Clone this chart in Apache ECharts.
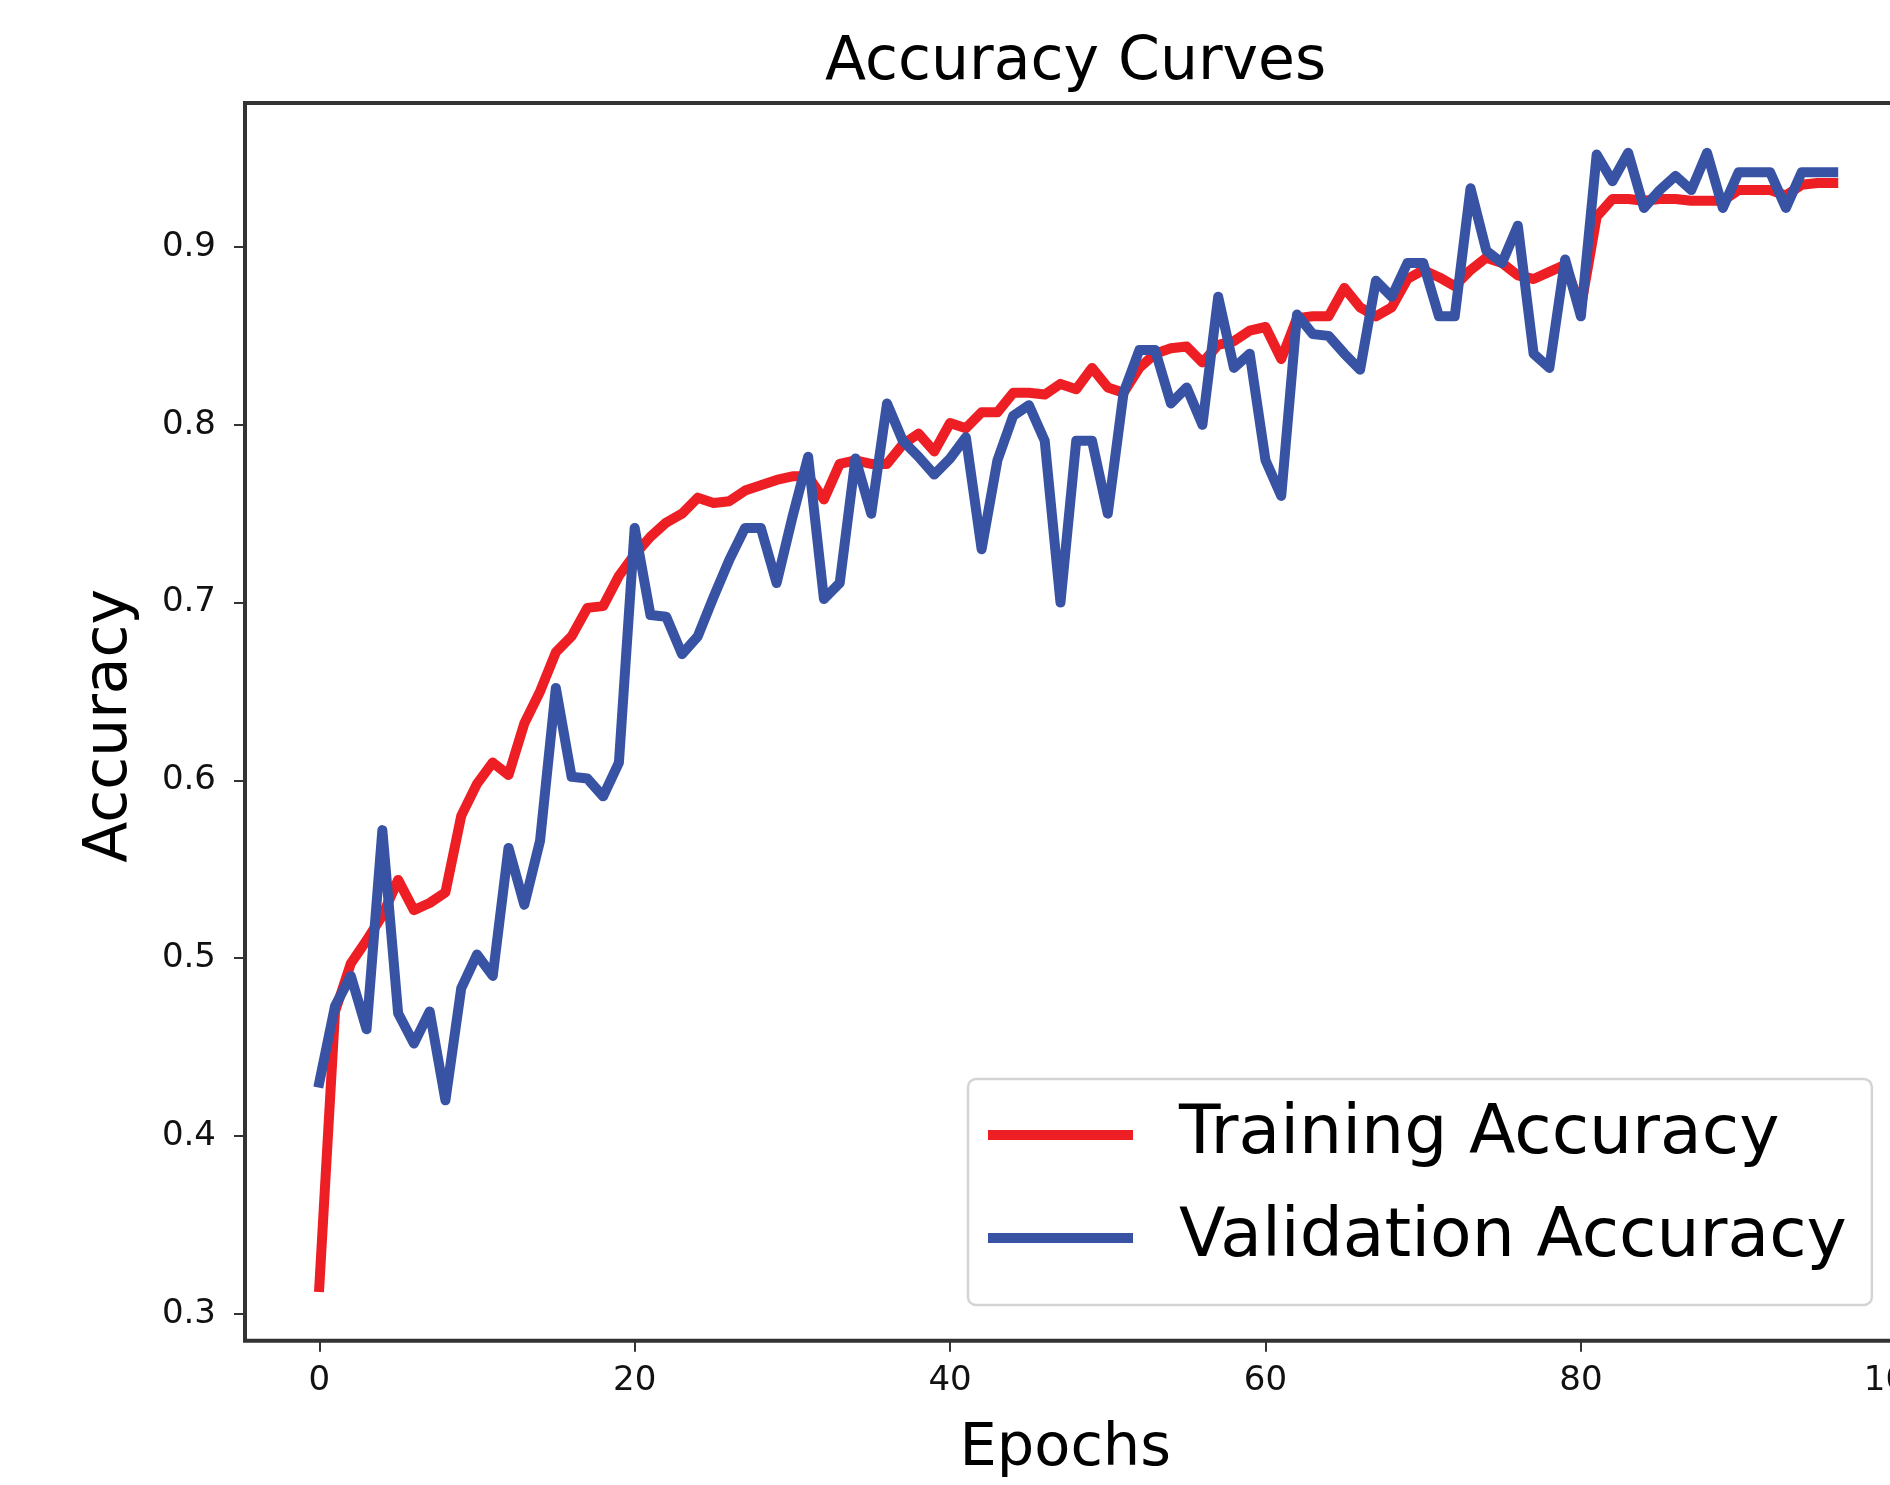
<!DOCTYPE html>
<html>
<head>
<meta charset="utf-8">
<script src="https://cdn.jsdelivr.net/npm/echarts@6/dist/echarts.min.js"></script>
<style>
html,body{margin:0;padding:0;background:#fff;}
#chart{width:1890px;height:1485px;}
</style>
</head>
<body>
<div id="chart"></div>
<script>
const seriesNames = ['Training Accuracy', 'Validation Accuracy'];
const xTicks = [0, 20, 40, 60, 80, 100];
const yTicks = [0.3, 0.4, 0.5, 0.6, 0.7, 0.8, 0.9];

const trainAcc = [
  0.315, 0.470, 0.497, 0.510, 0.524, 0.544, 0.527, 0.531, 0.537, 0.580,
  0.598, 0.610, 0.603, 0.632, 0.650, 0.672, 0.681, 0.697, 0.698, 0.715,
  0.727, 0.737, 0.745, 0.750, 0.759, 0.756, 0.757, 0.763, 0.766, 0.769,
  0.771, 0.771, 0.758, 0.778, 0.780, 0.778, 0.778, 0.789, 0.795, 0.785,
  0.801, 0.798, 0.807, 0.807, 0.818, 0.818, 0.817, 0.823, 0.820, 0.832,
  0.821, 0.818, 0.832, 0.840, 0.843, 0.844, 0.835, 0.845, 0.847, 0.853,
  0.855, 0.837, 0.860, 0.861, 0.861, 0.877, 0.866, 0.861, 0.866, 0.882,
  0.887, 0.883, 0.878, 0.887, 0.894, 0.891, 0.884, 0.882, 0.886, 0.890,
  0.866, 0.917, 0.927, 0.927, 0.926, 0.927, 0.927, 0.926, 0.926, 0.926,
  0.932, 0.932, 0.932, 0.929, 0.935, 0.936, 0.936
];

const valAcc = [
  0.430, 0.473, 0.490, 0.460, 0.572, 0.469, 0.452, 0.470, 0.420, 0.483,
  0.502, 0.490, 0.562, 0.530, 0.566, 0.652, 0.602, 0.601, 0.591, 0.610,
  0.742, 0.693, 0.692, 0.671, 0.681, 0.703, 0.724, 0.742, 0.742, 0.711,
  0.748, 0.782, 0.702, 0.711, 0.781, 0.750, 0.812, 0.791, 0.782, 0.772,
  0.781, 0.793, 0.730, 0.780, 0.805, 0.811, 0.791, 0.700, 0.791, 0.791,
  0.750, 0.818, 0.842, 0.842, 0.812, 0.821, 0.800, 0.872, 0.832, 0.840,
  0.780, 0.760, 0.862, 0.851, 0.850, 0.840, 0.831, 0.881, 0.872, 0.891,
  0.891, 0.861, 0.861, 0.933, 0.898, 0.891, 0.912, 0.840, 0.832, 0.893,
  0.861, 0.952, 0.937, 0.953, 0.922, 0.932, 0.940, 0.932, 0.953, 0.922,
  0.942, 0.942, 0.942, 0.922, 0.942, 0.942, 0.942
];

const FONT = 'DejaVu Sans';
const toPairs = arr => arr.map((v, i) => [i, v]);

const chart = echarts.init(document.getElementById('chart'), null, {renderer: 'canvas'});
chart.setOption({
  animation: false,
  backgroundColor: '#ffffff',
  title: {
    text: 'Accuracy Curves',
    left: 825,
    top: 33,
    padding: 0,
    textStyle: {fontFamily: FONT, fontSize: 60, fontWeight: 'normal', color: '#000'}
  },
  grid: {
    left: 245, top: 103, right: -17.5, bottom: 144.3,
    containLabel: false,
    outerBoundsMode: 'none',
    show: true,
    borderColor: '#333',
    borderWidth: 4,
    backgroundColor: 'transparent'
  },
  legend: {
    data: seriesNames,
    orient: 'vertical',
    left: 968,
    top: 1079,
    icon: 'rect',
    itemWidth: 145,
    itemHeight: 10,
    itemGap: 13,
    padding: [11, 25, 22, 20],
    backgroundColor: '#ffffff',
    borderColor: '#d4d4d4',
    borderWidth: 2.5,
    borderRadius: 8,
    itemStyle: {borderWidth: 0},
    textStyle: {fontFamily: FONT, fontSize: 68, color: '#000', lineHeight: 80, padding: [10, 0, 0, 41]}
  },
  xAxis: {
    type: 'value',
    min: -4.71,
    max: 100.71,
    name: 'Epochs',
    nameLocation: 'middle',
    nameGap: 79,
    nameTextStyle: {fontFamily: FONT, fontSize: 59, color: '#000', padding: [0, 22, 0, 0]},
    axisLine: {show: false, onZero: false},
    splitLine: {show: false},
    axisTick: {show: true, inside: false, length: 11, lineStyle: {color: '#333', width: 2}, customValues: xTicks},
    axisLabel: {fontFamily: FONT, fontSize: 34, color: '#111', margin: 23, customValues: xTicks,
      formatter: v => String(v)}
  },
  yAxis: {
    type: 'value',
    min: 0.2848,
    max: 0.981,
    name: 'Accuracy',
    nameLocation: 'middle',
    nameRotate: 90,
    nameGap: 105,
    nameTextStyle: {fontFamily: FONT, fontSize: 60, color: '#000', padding: [0, 8, 0, 0]},
    axisLine: {show: false, onZero: false},
    splitLine: {show: false},
    axisTick: {show: true, inside: false, length: 11, lineStyle: {color: '#333', width: 2}, customValues: yTicks},
    axisLabel: {fontFamily: FONT, fontSize: 34, color: '#111', margin: 29, customValues: yTicks,
      formatter: v => (Math.round(v * 10) / 10).toFixed(1)}
  },
  series: [
    {
      name: seriesNames[0],
      type: 'line',
      data: toPairs(trainAcc),
      showSymbol: false,
      symbol: 'none',
      color: '#ED1F24',
      itemStyle: {color: '#ED1F24'},
      lineStyle: {color: '#ED1F24', width: 10, cap: 'square', join: 'round'},
      z: 2
    },
    {
      name: seriesNames[1],
      type: 'line',
      data: toPairs(valAcc),
      showSymbol: false,
      symbol: 'none',
      color: '#3953A4',
      itemStyle: {color: '#3953A4'},
      lineStyle: {color: '#3953A4', width: 10, cap: 'square', join: 'round'},
      z: 3
    }
  ]
});
</script>
</body>
</html>
